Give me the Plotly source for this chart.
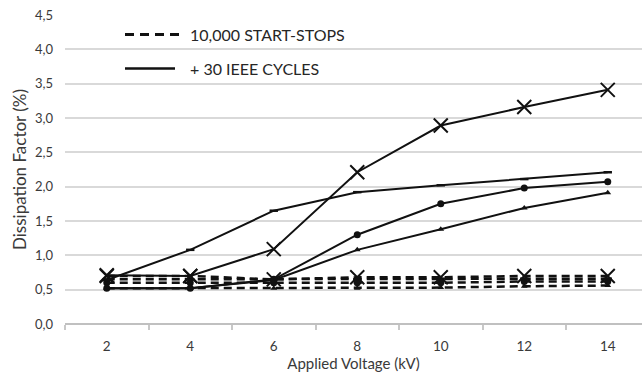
import plotly.graph_objects as go

voltage = [2, 4, 6, 8, 10, 12, 14]
y_ticks = [0, 0.5, 1.0, 1.5, 2.0, 2.5, 3.0, 3.5, 4.0, 4.5]

# after 10,000 start-stops (dashed)
ss_x = [0.70, 0.70, 0.65, 0.68, 0.68, 0.70, 0.70]
ss_dash = [0.65, 0.65, 0.65, 0.65, 0.66, 0.66, 0.66]
ss_circ = [0.60, 0.60, 0.60, 0.60, 0.60, 0.62, 0.62]
ss_tri = [0.52, 0.52, 0.52, 0.52, 0.53, 0.55, 0.56]

# + 30 IEEE cycles (solid)
ieee_x = [0.71, 0.70, 1.09, 2.21, 2.89, 3.16, 3.41]
ieee_dash = [0.64, 1.08, 1.65, 1.92, 2.02, 2.11, 2.21]
ieee_circ = [0.52, 0.52, 0.65, 1.30, 1.75, 1.98, 2.07]
ieee_tri = [0.52, 0.52, 0.64, 1.08, 1.38, 1.69, 1.91]

legend_labels = ["10,000 START-STOPS", "+ 30 IEEE CYCLES"]

INK = "#111111"
TXT = "#3a3a3a"
L, T, W, H = 65, 14.5, 577, 309.5

fig = go.Figure()

markers = {
    "x": dict(symbol="x-thin", size=14, line=dict(width=2, color=INK), color=INK),
    "dash": dict(symbol="line-ew", size=6, line=dict(width=2.5, color=INK), color=INK),
    "circ": dict(symbol="circle", size=7, color=INK),
    "tri": dict(symbol="triangle-up", size=6, color=INK),
}

for key, vals in [("tri", ss_tri), ("circ", ss_circ), ("dash", ss_dash), ("x", ss_x)]:
    fig.add_trace(go.Scatter(
        x=voltage, y=vals, mode="lines+markers",
        line=dict(color=INK, width=2.5, dash="8px,5px"),
        marker=markers[key], showlegend=False, hoverinfo="skip"))

for key, vals in [("tri", ieee_tri), ("circ", ieee_circ), ("dash", ieee_dash), ("x", ieee_x)]:
    fig.add_trace(go.Scatter(
        x=voltage, y=vals, mode="lines+markers",
        line=dict(color=INK, width=2),
        marker=markers[key], showlegend=False, hoverinfo="skip"))

def px(x):
    return (x - L) / W

def py(y):
    return (T + H - y) / H

# legend drawn manually
fig.add_shape(type="line", xref="paper", yref="paper", x0=px(125), x1=px(183),
              y0=py(34), y1=py(34), line=dict(color=INK, width=3, dash="9px,6px"))
fig.add_shape(type="line", xref="paper", yref="paper", x0=px(125), x1=px(175),
              y0=py(68), y1=py(68), line=dict(color=INK, width=2.5))
for i, lab in enumerate(legend_labels):
    fig.add_annotation(xref="paper", yref="paper", x=px(188), y=py(34 if i == 0 else 68),
                       text=lab, showarrow=False, xanchor="left", yanchor="middle",
                       font=dict(family="Lato", size=16, color="#262626"))

fig.update_layout(
    width=642, height=378,
    margin=dict(l=L, r=0, t=T, b=378 - T - H),
    paper_bgcolor="white", plot_bgcolor="white",
    separators=", ",
    font=dict(family="Lato", color=TXT),
    xaxis=dict(
        range=[1, 14.82], tickvals=voltage, ticktext=[str(v) for v in voltage],
        ticks="", showgrid=False, zeroline=False, showline=False, automargin=False,
        tickfont=dict(size=13.5, color=TXT), ticklabelstandoff=12,
        minor=dict(tick0=1, dtick=2, ticks="outside", ticklen=5, tickcolor="#c8c8c8", tickwidth=1.5, showgrid=False),
        title=dict(text="Applied Voltage (kV)", font=dict(size=15, color=TXT), standoff=2),
    ),
    yaxis=dict(
        range=[0, 4.5], tickvals=y_ticks, tickformat=".1f", automargin=False,
        showgrid=True, gridcolor="#d9d9d9", gridwidth=1.8,
        zeroline=True, zerolinecolor="#c0c0c0", zerolinewidth=1.8,
        showline=False, ticks="", ticklabelstandoff=11,
        tickfont=dict(size=13, color=TXT),
        title=dict(text="Dissipation Factor (%)", font=dict(size=17, color=TXT), standoff=4),
    ),
)

fig.write_html("out.html", config={"displayModeBar": False},
               post_script="document.body.style.margin='0';document.body.style.overflow='hidden';")
